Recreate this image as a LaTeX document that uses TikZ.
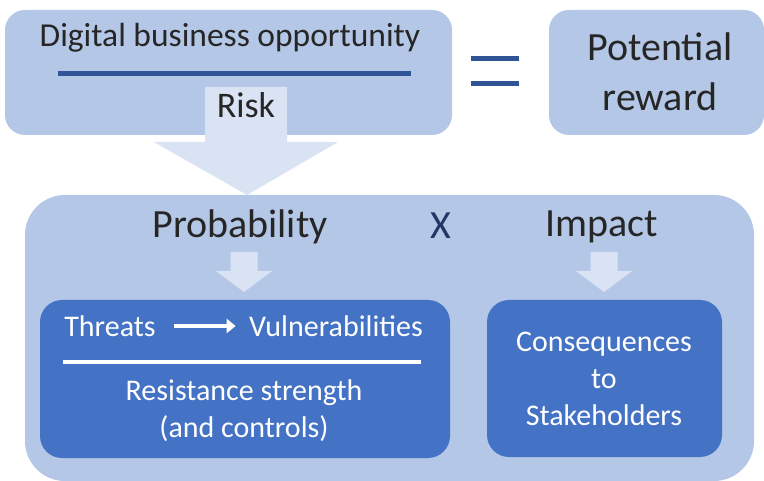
\documentclass[tikz,border=0pt]{standalone}
\usepackage{fontspec}
\setmainfont{Carlito}
\usetikzlibrary{arrows.meta}
\definecolor{boxlight}{HTML}{B4C7E7}
\definecolor{boxdark}{HTML}{4472C4}
\definecolor{arrowfill}{HTML}{DAE3F3}
\definecolor{barblue}{HTML}{2F5597}
\definecolor{txt}{HTML}{262626}
\definecolor{xnavy}{HTML}{1F3864}
\tikzset{
  lightbox/.style={fill=boxlight,rounded corners=20pt,inner sep=0pt},
  darkbox/.style={fill=boxdark,rounded corners=22pt,inner sep=0pt},
  bigtxt/.style={text=txt,font=\fontsize{40}{50}\selectfont,align=center},
  midtxt/.style={text=txt,font=\fontsize{33.5}{38}\selectfont},
  whitetxt/.style={text=white,font=\fontsize{30}{37}\selectfont,align=center},
}
\begin{document}
\begin{tikzpicture}[x=1pt,y=-1pt]
\useasboundingbox (0,0) rectangle (764,481);
% top row
\node[lightbox,minimum width=447pt,minimum height=125pt] (ratio) at (228.5,72.5) {};
\node[lightbox,minimum width=215pt,minimum height=125pt] (reward) at (656.5,72.5) {};
\node[bigtxt] (rewardtxt) at (660,72) {Potential\\reward};
\draw[barblue,line width=5pt] (58,74) -- (411,74);
\node[midtxt] (opp) at (230,38) {Digital business opportunity};
\draw[barblue,line width=5pt] (471,59) -- (519,59);
\draw[barblue,line width=5pt] (471,84) -- (519,84);
% big risk box
\node[lightbox,rounded corners=40pt,minimum width=729pt,minimum height=286pt] (risk) at (389.5,338) {};
% fat arrow from ratio down to risk
\fill[arrowfill] (205,87) -- (287,87) -- (287,142) -- (338,142) -- (247,195)
  -- (154,142) -- (205,142) -- cycle;
\node[midtxt,font=\fontsize{36}{40}\selectfont] (risktxt) at (246,105) {Risk};
\node[bigtxt] (prob) at (240,227) {Probability};
\node[bigtxt,text=xnavy] (times) at (441,226) {X};
\node[bigtxt] (impact) at (602,227) {Impact};
% small arrows
\foreach \cx in {244,604}
  \fill[arrowfill] (\cx-13.5,252) -- (\cx+13.5,252) -- (\cx+13.5,271) -- (\cx+28,271)
    -- (\cx,292) -- (\cx-28,271) -- (\cx-13.5,271) -- cycle;
% lower boxes
\node[darkbox,minimum width=410pt,minimum height=158pt] (probbox) at (245,379) {};
\node[darkbox,minimum width=235pt,minimum height=157pt] (impbox) at (604.5,378.5) {};
\node[whitetxt] (threats) at (110,326) {Threats};
\node[whitetxt] (vuln) at (336,326) {Vulnerabilities};
\draw[white,line width=4pt,-{Triangle[length=9pt,width=14pt]},shorten <=15pt,shorten >=10pt] (threats) -- (vuln);
\draw[white,line width=4pt] (63,362) -- (421,362);
\node[whitetxt] (resist) at (244,411) {Resistance strength\\(and controls)};
\node[whitetxt] (conseq) at (604,379) {Consequences\\to\\Stakeholders};
\end{tikzpicture}
\end{document}
